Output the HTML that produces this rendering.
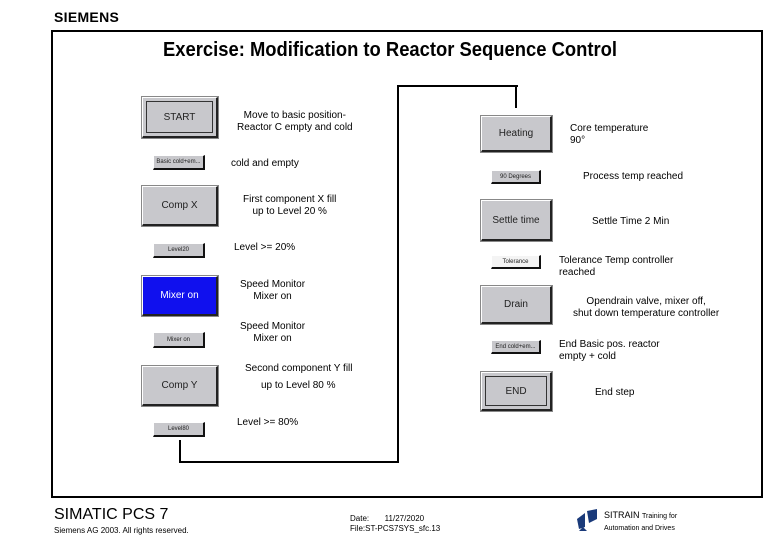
<!DOCTYPE html>
<html><head><style>
body{margin:0;width:780px;height:540px;background:#fff;position:relative;overflow:hidden;font-family:"Liberation Sans",sans-serif;color:#000}
div{position:absolute;box-sizing:border-box}
.s{background:#c8c8cc;border:1px solid #fff;border-right:2px solid #222;border-bottom:2px solid #222;outline:1px solid #888;font-size:10px;display:flex;align-items:center;justify-content:center;color:#222}
.t{background:#c8c8cc;border:1px solid #fff;border-right:2px solid #111;border-bottom:2px solid #111;font-size:6px;display:flex;align-items:center;justify-content:center;color:#222}
.l{font-size:10px;white-space:nowrap;line-height:12px}
.k{background:#000}
</style></head><body>
<div style="left:54px;top:9px;font-size:14px;font-weight:bold;letter-spacing:0.3px">SIEMENS</div>
<div style="left:51px;top:30px;width:712px;height:468px;border:2px solid #000"></div>
<div style="left:0;width:780px;top:39px;text-align:center;font-size:20px;font-weight:bold;transform:scaleX(0.92)">Exercise: Modification to Reactor Sequence Control</div>

<div class="s" style="left:142px;top:97px;width:76px;height:41px"><div style="left:3px;top:3px;right:3px;bottom:3px;border:1px solid #333"></div>START</div>
<div class="t" style="left:153px;top:155px;width:52px;height:15px">Basic cold+em...</div>
<div class="s" style="left:142px;top:186px;width:76px;height:40px">Comp X</div>
<div class="t" style="left:153px;top:243px;width:52px;height:15px">Level20</div>
<div class="s" style="left:142px;top:276px;width:76px;height:40px;background:#1010ee;color:#fff">Mixer on</div>
<div class="t" style="left:153px;top:332px;width:52px;height:16px">Mixer on</div>
<div class="s" style="left:142px;top:366px;width:76px;height:40px">Comp Y</div>
<div class="t" style="left:153px;top:422px;width:52px;height:15px">Level80</div>

<div class="s" style="left:481px;top:116px;width:71px;height:36px">Heating</div>
<div class="t" style="left:491px;top:170px;width:50px;height:14px">90 Degrees</div>
<div class="s" style="left:481px;top:200px;width:71px;height:41px">Settle time</div>
<div class="t" style="left:491px;top:255px;width:50px;height:14px;background:#f4f4f4">Tolerance</div>
<div class="s" style="left:481px;top:286px;width:71px;height:38px">Drain</div>
<div class="t" style="left:491px;top:340px;width:50px;height:14px">End cold+em...</div>
<div class="s" style="left:481px;top:372px;width:71px;height:39px"><div style="left:3px;top:3px;right:3px;bottom:3px;border:1px solid #333"></div>END</div>

<div class="k" style="left:179px;top:440px;width:2px;height:23px"></div>
<div class="k" style="left:179px;top:461px;width:220px;height:2px"></div>
<div class="k" style="left:397px;top:85px;width:2px;height:378px"></div>
<div class="k" style="left:397px;top:85px;width:121px;height:2px"></div>
<div class="k" style="left:515px;top:85px;width:2px;height:23px"></div>

<div class="l" style="left:237px;top:110px;text-align:center">Move to basic position-<br>Reactor C empty and cold</div>
<div class="l" style="left:231px;top:158px">cold and empty</div>
<div class="l" style="left:243px;top:194px;text-align:center">First component X fill<br>up to Level 20 %</div>
<div class="l" style="left:234px;top:242px">Level &gt;= 20%</div>
<div class="l" style="left:240px;top:279px;text-align:center">Speed Monitor<br>Mixer on</div>
<div class="l" style="left:240px;top:321px;text-align:center">Speed Monitor<br>Mixer on</div>
<div class="l" style="left:245px;top:363px">Second component Y fill</div>
<div class="l" style="left:261px;top:380px">up to Level 80 %</div>
<div class="l" style="left:237px;top:417px">Level &gt;= 80%</div>

<div class="l" style="left:570px;top:123px">Core temperature<br>90°</div>
<div class="l" style="left:583px;top:171px">Process temp reached</div>
<div class="l" style="left:592px;top:216px">Settle Time 2 Min</div>
<div class="l" style="left:559px;top:255px">Tolerance Temp controller<br>reached</div>
<div class="l" style="left:573px;top:296px;text-align:center">Opendrain valve, mixer off,<br>shut down temperature controller</div>
<div class="l" style="left:559px;top:339px">End Basic pos. reactor<br>empty + cold</div>
<div class="l" style="left:595px;top:387px">End step</div>

<div style="left:54px;top:506px;font-size:16px">SIMATIC PCS 7</div>
<div style="left:54px;top:526px;font-size:8px">Siemens AG 2003. All rights reserved.</div>
<div style="left:350px;top:514px;font-size:8px;line-height:10px">Date:&nbsp;&nbsp;&nbsp;&nbsp;&nbsp;&nbsp;&nbsp;11/27/2020<br>File:ST-PCS7SYS_sfc.13</div>
<svg style="position:absolute;left:575px;top:507px" width="24" height="24"><path d="M2 12 L10 6 L10 20 L4 22Z" fill="#1a3a7a"/><path d="M12 4 L22 2 L22 12 L14 16Z" fill="#1a3a7a"/><path d="M8 20 L12 24 L4 24Z" fill="#1a3a7a"/></svg>
<div style="left:604px;top:510px;font-size:9px;line-height:11px">SITRAIN <span style="font-size:7px">Training for</span><br><span style="font-size:7px">Automation and Drives</span></div>
</body></html>
